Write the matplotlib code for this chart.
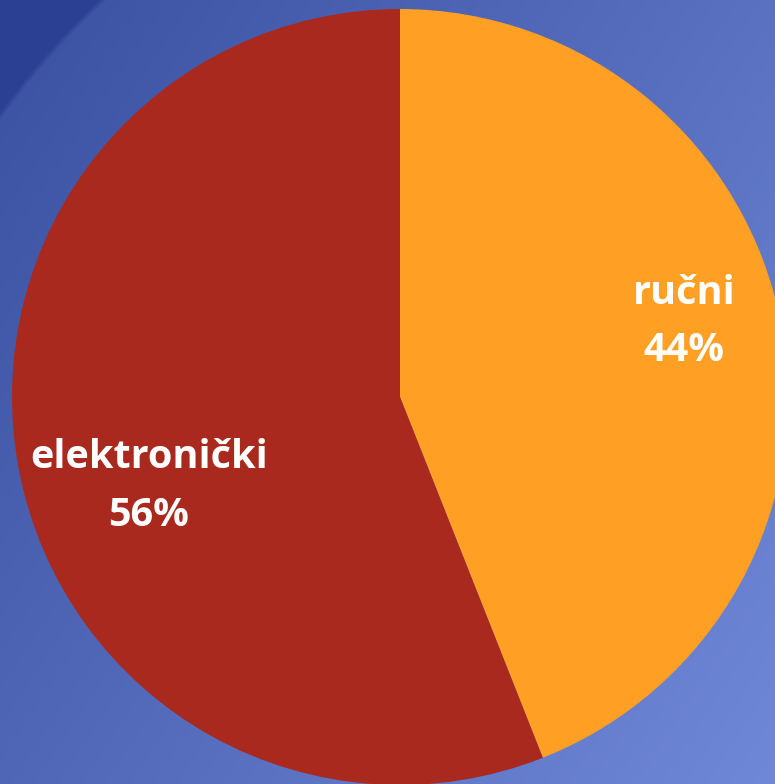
import numpy as np
import matplotlib.pyplot as plt
from matplotlib.colors import to_rgb

labels = ['ručni', 'elektronički']
shares = [44, 56]
colors = ['#ffa024', '#a9291e']

W, H = 775, 784
fig = plt.figure(figsize=(W / 100, H / 100), dpi=100)
ax = fig.add_axes([0, 0, 1, 1])

# diagonal blue gradient for the background
yy, xx = np.mgrid[0:H, 0:W]
t = 0.6 * xx / W + 0.4 * yy / H
c0 = np.array(to_rgb('#3a50a0'))
c1 = np.array(to_rgb('#7088d8'))
bg = c0 + t[..., None] * (c1 - c0)
# darker swoosh in the top-left corner
d = np.hypot(xx - 620, yy - 560)
dark = np.clip((d - 760) / 6, 0, 1)[..., None]
bg = bg * (1 - dark) + np.array(to_rgb('#2b3f93')) * dark
ax.imshow(bg, extent=[0, W, 0, H], origin='upper', zorder=0)

cx, cy, r = 400, H - 397, 388
wedges, _ = ax.pie(shares, colors=colors, startangle=90, counterclock=False,
                   center=(cx, cy), radius=r,
                   wedgeprops=dict(linewidth=0))
for w in wedges:
    w.set_zorder(1)

font = dict(family=['Open Sans', 'DejaVu Sans'], weight='bold', size=28.5,
            color='white', ha='center', va='center', zorder=2)
ax.text(684, H - 293, labels[0], **font)
ax.text(684, H - 350, f'{shares[0]}%', **font)
ax.text(149, H - 457, labels[1], **font)
ax.text(149, H - 515, f'{shares[1]}%', **font)

ax.set_xlim(0, W)
ax.set_ylim(0, H)
ax.set_aspect('auto')
ax.axis('off')
fig.savefig('out.png', dpi=100)
